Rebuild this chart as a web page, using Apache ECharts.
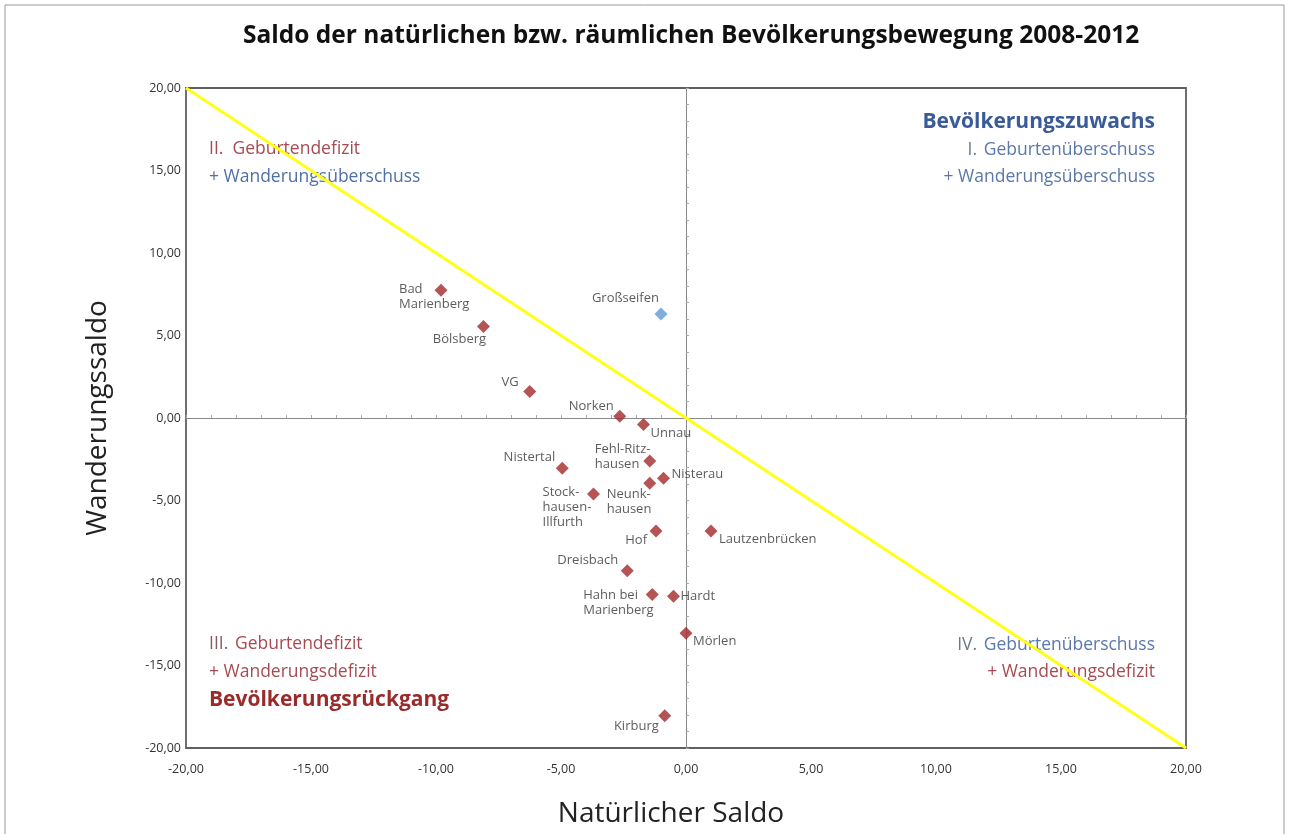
<!DOCTYPE html>
<html>
<head>
<meta charset="utf-8">
<script src="https://cdn.jsdelivr.net/npm/echarts@6/dist/echarts.min.js"></script>
<style>
  html, body { margin: 0; padding: 0; background: #fff; }
  #chart { width: 1289px; height: 834px; }
</style>
</head>
<body>
<div id="chart"></div>
<script>
// Gemeinden der VG Bad Marienberg, Saldo 2008-2012
var orte = ['Bad\nMarienberg', 'Bölsberg', 'VG', 'Norken', 'Unnau', 'Großseifen',
  'Fehl-Ritz-\nhausen', 'Nistertal', 'Nisterau', 'Neunk-\nhausen', 'Stock-\nhausen-\nIllfurth',
  'Hof', 'Lautzenbrücken', 'Dreisbach', 'Hahn bei\nMarienberg', 'Hardt', 'Mörlen', 'Kirburg'];
var natuerlich = [-9.8, -8.1, -6.25, -2.65, -1.7, -1.0,
  -1.45, -4.95, -0.9, -1.45, -3.7,
  -1.2, 1.0, -2.35, -1.35, -0.5, 0.0, -0.85];
var wanderung = [7.75, 5.55, 1.6, 0.1, -0.4, 6.3,
  -2.6, -3.05, -3.65, -3.95, -4.6,
  -6.85, -6.85, -9.25, -10.7, -10.8, -13.05, -18.05];
var hervorgehoben = ['Großseifen'];

// Trennlinie Zuwachs / Rückgang
var linieX = [-20, 20];
var linieY = [20, -20];

// Beschriftungen neben den Rauten
var labelLage = {
  'Bad\nMarienberg': ['left', 'top', [-42, -8]],
  'Bölsberg': ['center', 'middle', [-24, 13]],
  'VG': ['right', 'middle', [-11, -9]],
  'Norken': ['right', 'middle', [-6, -10]],
  'Unnau': ['left', 'middle', [7, 9]],
  'Großseifen': ['right', 'middle', [-2, -16]],
  'Fehl-Ritz-\nhausen': ['left', 'top', [-55, -19]],
  'Nistertal': ['right', 'middle', [-7, -11]],
  'Nisterau': ['left', 'middle', [8, -4]],
  'Neunk-\nhausen': ['left', 'top', [-43, 4]],
  'Stock-\nhausen-\nIllfurth': ['left', 'top', [-51, -9]],
  'Hof': ['right', 'middle', [-9, 9]],
  'Lautzenbrücken': ['left', 'middle', [8, 8]],
  'Dreisbach': ['right', 'middle', [-9, -10]],
  'Hahn bei\nMarienberg': ['left', 'top', [-69, -7]],
  'Hardt': ['left', 'middle', [7, 0]],
  'Mörlen': ['left', 'middle', [7, 8]],
  'Kirburg': ['right', 'middle', [-6, 10]]
};

var rot = '#a3282b';
var blau = '#4f6fa8';
var schrift = '"Open Sans", sans-serif';

var punkte = orte.map(function (name, i) {
  var lage = labelLage[name];
  return {
    name: name,
    value: [natuerlich[i], wanderung[i]],
    itemStyle: { color: hervorgehoben.indexOf(name) >= 0 ? '#5b9bd5' : rot },
    label: { align: lage[0], verticalAlign: lage[1], offset: lage[2] }
  };
});

function komma(v) {
  return v.toFixed(2).replace('.', ',');
}

var chart = echarts.init(document.getElementById('chart'));
chart.setOption({
  backgroundColor: '#fff',
  animation: false,
  title: {
    text: 'Saldo der natürlichen bzw. räumlichen Bevölkerungsbewegung 2008-2012',
    left: 238,
    top: 19,
    textStyle: { fontFamily: schrift, fontSize: 24.5, fontWeight: 'bold', color: '#111' }
  },
  grid: { left: 186, right: 103, top: 88, bottom: 86, show: true, borderColor: '#606060', borderWidth: 1.8 },
  xAxis: [{
    type: 'value', min: -20, max: 20, interval: 5, position: 'bottom',
    name: 'Natürlicher Saldo', nameLocation: 'middle', nameGap: 52,
    nameTextStyle: { fontFamily: schrift, fontSize: 28, color: '#222', padding: [0, 30, 0, 0] },
    axisLine: { show: false, onZero: false },
    axisTick: { show: false },
    splitLine: { show: false },
    axisLabel: { margin: 15, fontFamily: schrift, fontSize: 12.5, color: '#333', formatter: komma }
  }, {
    type: 'value', min: -20, max: 20, interval: 1, position: 'top',
    axisLine: { show: true, onZero: true, onZeroAxisIndex: 0, lineStyle: { color: '#8a8a8a', width: 1 } },
    axisTick: { show: true, length: 3, lineStyle: { color: '#aaa' } },
    axisLabel: { show: false },
    splitLine: { show: false }
  }],
  yAxis: [{
    type: 'value', min: -20, max: 20, interval: 5, position: 'left',
    name: 'Wanderungssaldo', nameLocation: 'middle', nameGap: 74, nameRotate: 90,
    nameTextStyle: { fontFamily: schrift, fontSize: 28, color: '#222' },
    axisLine: { show: false, onZero: false },
    axisTick: { show: false },
    splitLine: { show: false },
    axisLabel: { margin: 5, fontFamily: schrift, fontSize: 12.5, color: '#333', formatter: komma }
  }, {
    type: 'value', min: -20, max: 20, interval: 1, position: 'right',
    axisLine: { show: true, onZero: true, onZeroAxisIndex: 0, lineStyle: { color: '#8a8a8a', width: 1 } },
    axisTick: { show: true, length: 3, lineStyle: { color: '#aaa' } },
    axisLabel: { show: false },
    splitLine: { show: false }
  }],
  series: [{
    name: 'Trennlinie',
    type: 'line',
    xAxisIndex: 0, yAxisIndex: 0,
    data: linieX.map(function (x, i) { return [x, linieY[i]]; }),
    showSymbol: false,
    lineStyle: { color: '#ffff1a', width: 3 },
    z: 3
  }, {
    name: 'Gemeinden',
    type: 'scatter',
    xAxisIndex: 0, yAxisIndex: 0,
    symbol: 'diamond',
    symbolSize: 13,
    data: punkte,
    label: {
      show: true,
      position: 'inside',
      formatter: '{b}',
      fontFamily: schrift,
      fontSize: 13,
      lineHeight: 15,
      color: '#333'
    },
    z: 4
  }],
  graphic: [
    { type: 'rect', shape: { x: 5, y: 5, width: 1279, height: 840 }, style: { fill: null, stroke: '#999', lineWidth: 1 }, silent: true },
    // Quadrant II
    { type: 'text', left: 209, top: 140, style: { text: 'II.  Geburtendefizit', fontFamily: schrift, fontSize: 17.5, fill: '#a84a52' } },
    { type: 'text', left: 209, top: 168, style: { text: '+ Wanderungsüberschuss', fontFamily: schrift, fontSize: 17.5, fill: blau } },
    // Quadrant I
    { type: 'text', right: 134, top: 112, style: { text: 'Bevölkerungszuwachs', fontFamily: schrift, fontSize: 21, fontWeight: 'bold', fill: '#3a5a98' } },
    { type: 'text', right: 134, top: 141, style: { text: '{g|I.}  {b|Geburtenüberschuss}', rich: { g: { fontFamily: schrift, fontSize: 17.5, fill: '#6a7890' }, b: { fontFamily: schrift, fontSize: 17.5, fill: '#5a78aa' } } } },
    { type: 'text', right: 134, top: 168, style: { text: '+ Wanderungsüberschuss', fontFamily: schrift, fontSize: 17.5, fill: '#5a78aa' } },
    // Quadrant III
    { type: 'text', left: 209, top: 635, style: { text: '{g|III.}  {r|Geburtendefizit}', rich: { g: { fontFamily: schrift, fontSize: 17.5, fill: '#8a5a62' }, r: { fontFamily: schrift, fontSize: 17.5, fill: '#a84a52' } } } },
    { type: 'text', left: 209, top: 663, style: { text: '+ Wanderungsdefizit', fontFamily: schrift, fontSize: 17.5, fill: '#a84a52' } },
    { type: 'text', left: 209, top: 690, style: { text: 'Bevölkerungsrückgang', fontFamily: schrift, fontSize: 21, fontWeight: 'bold', fill: '#9b2b2b' } },
    // Quadrant IV
    { type: 'text', right: 134, top: 636, style: { text: '{g|IV.}  {b|Geburtenüberschuss}', rich: { g: { fontFamily: schrift, fontSize: 17.5, fill: '#707888' }, b: { fontFamily: schrift, fontSize: 17.5, fill: '#5a78aa' } } } },
    { type: 'text', right: 134, top: 663, style: { text: '+ Wanderungsdefizit', fontFamily: schrift, fontSize: 17.5, fill: '#a84a52' } }
  ]
});
</script>
</body>
</html>
